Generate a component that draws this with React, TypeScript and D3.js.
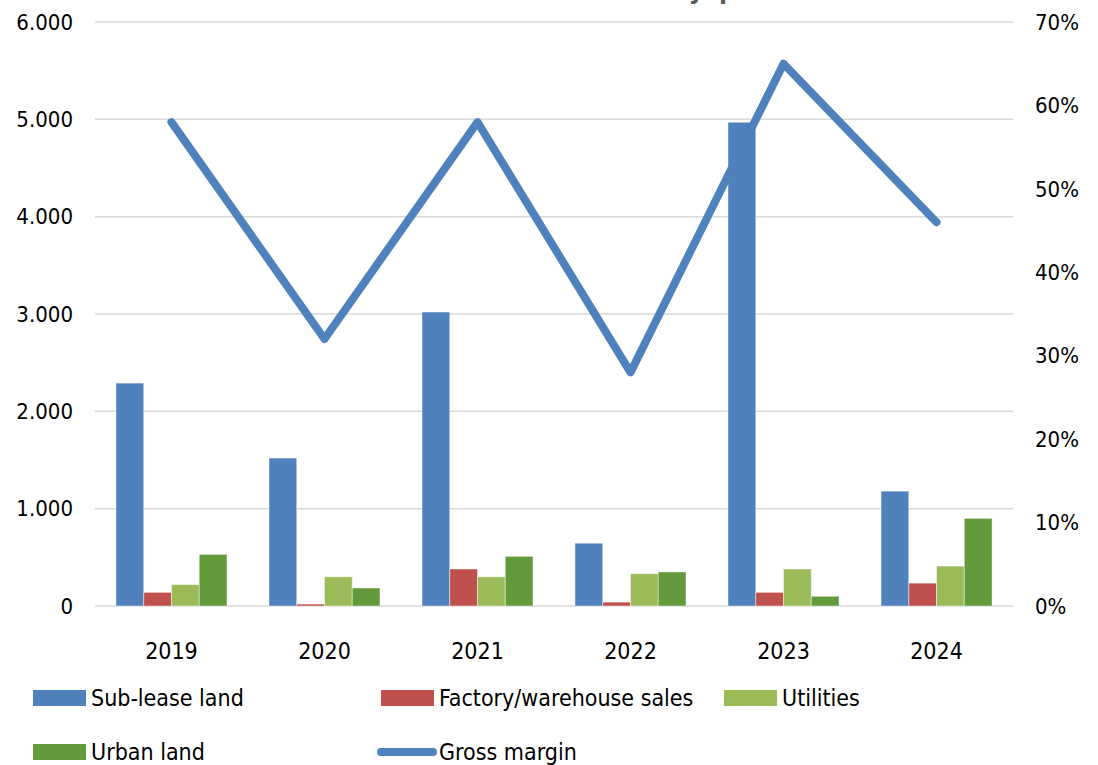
import React, { useEffect, useRef } from "react";
import * as d3 from "d3";

const years = ["2019", "2020", "2021", "2022", "2023", "2024"];
const seriesNames = ["Sub-lease land", "Factory/warehouse sales", "Utilities", "Urban land"];
const seriesColors = ["#4f81bd", "#c0504d", "#9bbb59", "#629a3c"];

const subLease = [2290, 1520, 3020, 645, 4970, 1180];
const factorySales = [140, 20, 380, 40, 140, 235];
const utilities = [220, 300, 300, 332, 380, 410];
const urbanLand = [530, 185, 510, 350, 100, 900];
const grossMargin = [0.58, 0.32, 0.58, 0.28, 0.65, 0.46];

const leftTicks = [0, 1000, 2000, 3000, 4000, 5000, 6000];
const rightTicks = [0, 0.1, 0.2, 0.3, 0.4, 0.5, 0.6, 0.7];

const W = 1098;
const H = 765;
const FONT = "'DejaVu Sans Condensed', 'Liberation Sans', sans-serif";

function App() {
  const ref = useRef<SVGSVGElement>(null);

  useEffect(() => {
    const svg = d3.select(ref.current);
    svg.selectAll("*").remove();

    const margin = { left: 95, right: 85, top: 22, bottom: 159 };
    const seriesData = [subLease, factorySales, utilities, urbanLand];

    const x0 = d3.scaleBand()
      .domain(years)
      .range([margin.left, W - margin.right])
      .paddingInner(0.2745)
      .paddingOuter(0.137);

    const x1 = d3.scaleBand()
      .domain(seriesNames)
      .range([0, x0.bandwidth()]);

    const yL = d3.scaleLinear().domain([0, 6000]).range([H - margin.bottom, margin.top]);
    const yR = d3.scaleLinear().domain([0, 0.7]).range([H - margin.bottom, margin.top]);

    // title sits above the visible area, only its descenders show
    const title = svg.append("g")
      .attr("font-family", FONT)
      .attr("font-size", 26)
      .attr("font-weight", "bold")
      .attr("fill", "#595959");
    title.append("text").attr("x", 704).attr("y", -2).attr("text-anchor", "end").text("Revenue structure by");
    title.append("text").attr("x", 719).attr("y", -2).text("product");

    // gridlines
    svg.append("g")
      .selectAll("line")
      .data(leftTicks)
      .join("line")
      .attr("x1", margin.left)
      .attr("x2", W - margin.right)
      .attr("y1", d => yL(d))
      .attr("y2", d => yL(d))
      .attr("stroke", "#d9d9d9")
      .attr("stroke-width", 1.5);

    // left axis labels
    const fmt = (d: number) => d === 0 ? "0" : d3.format(",")(d).replace(/,/g, ".");
    svg.append("g")
      .selectAll("text")
      .data(leftTicks)
      .join("text")
      .attr("x", 73)
      .attr("y", d => yL(d))
      .attr("dy", "0.35em")
      .attr("text-anchor", "end")
      .attr("font-family", FONT)
      .attr("font-size", 22)
      .attr("fill", "#000")
      .text(d => fmt(d));

    // right axis labels
    svg.append("g")
      .selectAll("text")
      .data(rightTicks)
      .join("text")
      .attr("x", 1035)
      .attr("y", d => yR(d))
      .attr("dy", "0.35em")
      .attr("font-family", FONT)
      .attr("font-size", 22)
      .attr("fill", "#000")
      .text(d => d3.format(".0%")(d));

    // bars
    const groups = svg.append("g")
      .selectAll("g")
      .data(years)
      .join("g")
      .attr("transform", d => `translate(${x0(d)},0)`);

    groups.selectAll("rect")
      .data((d, i) => seriesNames.map((s, j) => ({ s, j, v: seriesData[j][i] })))
      .join("rect")
      .attr("x", d => x1(d.s)!)
      .attr("width", x1.bandwidth())
      .attr("y", d => yL(d.v))
      .attr("height", d => yL(0) - yL(d.v))
      .attr("fill", d => seriesColors[d.j])
      .attr("stroke", "rgba(255,255,255,0.45)")
      .attr("stroke-width", 1);

    // year labels
    svg.append("g")
      .selectAll("text")
      .data(years)
      .join("text")
      .attr("x", d => x0(d)! + x0.bandwidth() / 2)
      .attr("y", 651)
      .attr("dy", "0.35em")
      .attr("text-anchor", "middle")
      .attr("font-family", FONT)
      .attr("font-size", 23)
      .attr("fill", "#000")
      .text(d => d);

    // gross margin line
    const line = d3.line<number>()
      .x((d, i) => x0(years[i])! + x0.bandwidth() / 2)
      .y(d => yR(d));

    svg.append("path")
      .datum(grossMargin)
      .attr("d", line)
      .attr("fill", "none")
      .attr("stroke", "#4f81bd")
      .attr("stroke-width", 8)
      .attr("stroke-linejoin", "round")
      .attr("stroke-linecap", "round");

    // legend
    const legendItems = [
      { name: seriesNames[0], color: seriesColors[0], x: 33, y: 698, kind: "rect" },
      { name: seriesNames[1], color: seriesColors[1], x: 381, y: 698, kind: "rect" },
      { name: seriesNames[2], color: seriesColors[2], x: 724, y: 698, kind: "rect" },
      { name: seriesNames[3], color: seriesColors[3], x: 33, y: 752, kind: "rect" },
      { name: "Gross margin", color: "#4f81bd", x: 381, y: 752, kind: "line" },
    ];

    const lg = svg.append("g")
      .selectAll("g")
      .data(legendItems)
      .join("g")
      .attr("transform", d => `translate(${d.x},${d.y})`);

    lg.filter(d => d.kind === "rect")
      .append("rect")
      .attr("x", 0)
      .attr("y", -8)
      .attr("width", 53)
      .attr("height", 16)
      .attr("fill", d => d.color);

    lg.filter(d => d.kind === "line")
      .append("line")
      .attr("x1", 0)
      .attr("x2", 52)
      .attr("y1", 0)
      .attr("y2", 0)
      .attr("stroke", d => d.color)
      .attr("stroke-width", 8)
      .attr("stroke-linecap", "round");

    lg.append("text")
      .attr("x", 58)
      .attr("y", 0)
      .attr("dy", "0.35em")
      .attr("font-family", FONT)
      .attr("font-size", 23)
      .attr("fill", "#000")
      .text(d => d.name);
  }, []);

  return (
    <svg
      ref={ref}
      width={W}
      height={H}
      style={{ position: "absolute", left: 0, top: 0, background: "#fff" }}
    />
  );
}

export default App;
